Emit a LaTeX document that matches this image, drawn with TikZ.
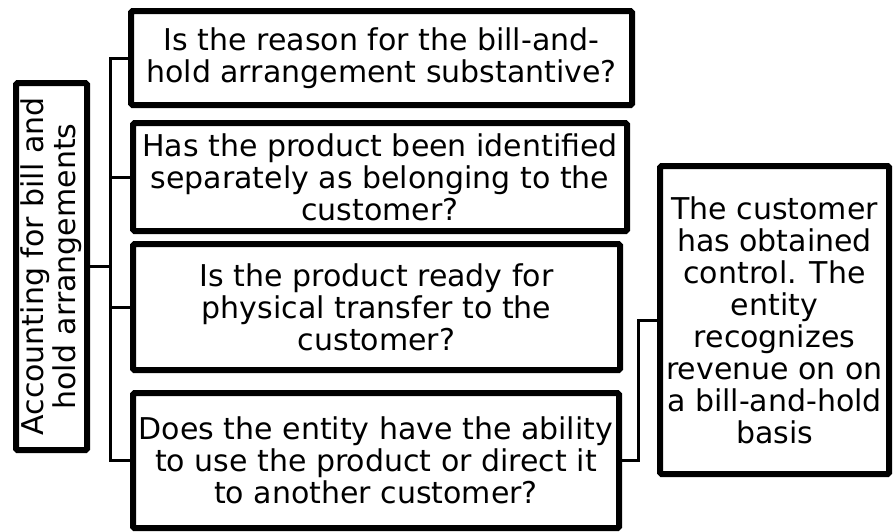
\documentclass[tikz,border=0pt]{standalone}
\usepackage{fontspec}
\setmainfont{DejaVu Sans}
\usetikzlibrary{shadows}
\tikzset{
  box/.style={draw=black, line width=6pt, fill=white, inner sep=0pt, align=center,
    rounded corners=1.5pt,
    drop shadow={shadow xshift=2pt, shadow yshift=-2pt, opacity=0.18},
    font=\fontsize{30}{32}\selectfont},
  conn/.style={draw=black, line width=3pt}
}
\begin{document}
\begin{tikzpicture}[x=1pt,y=-1pt]
\useasboundingbox (0,0) rectangle (893,531);
\node[box, minimum width=367pt, minimum height=71pt, rotate=90] (left) at (51.5,266.5)
  {Accounting for bill and\\hold arrangements};
\node[box, minimum width=501pt, minimum height=94pt] (b1) at (381.5,58)
  {Is the reason for the bill-and-\\hold arrangement substantive?};
\node[box, minimum width=494pt, minimum height=108pt] (b2) at (380,177)
  {Has the product been identified\\separately as belonging to the\\customer?};
\node[box, minimum width=487pt, minimum height=126pt] (b3) at (376.5,307)
  {Is the product ready for\\physical transfer to the\\customer?};
\node[box, minimum width=486pt, minimum height=135pt] (b4) at (376,460.5)
  {Does the entity have the ability\\to use the product or direct it\\to another customer?};
\node[box, minimum width=229pt, minimum height=308pt] (right) at (774.5,320)
  {The customer\\has obtained\\control. The\\entity\\recognizes\\revenue on on\\a bill-and-hold\\basis};
\coordinate (j) at (110,266.5);
\coordinate (k) at (638,320);
\draw[conn] (left.south) -- (j);
\draw[conn] (j) |- (b1.west);
\draw[conn] (j) |- (b2.west);
\draw[conn] (j) |- (b3.west);
\draw[conn] (j) |- (b4.west);
\draw[conn] (b4.east) -| (k) -- (right.west);
\end{tikzpicture}
\end{document}
